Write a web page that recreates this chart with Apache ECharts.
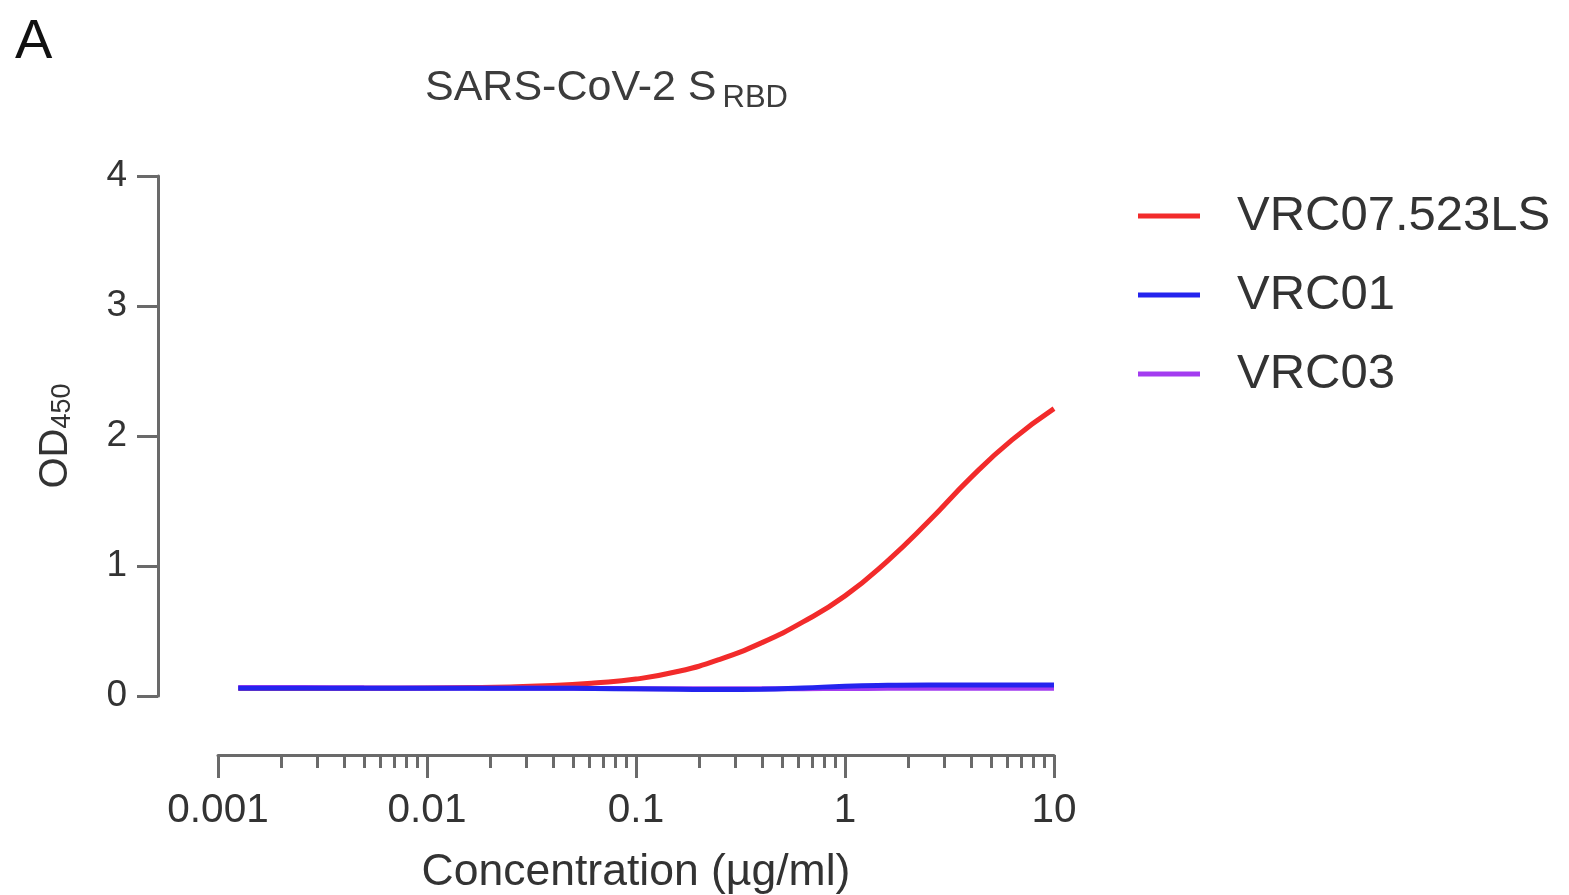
<!DOCTYPE html>
<html>
<head>
<meta charset="utf-8">
<script src="https://cdn.jsdelivr.net/npm/echarts@6/dist/echarts.min.js"></script>
<style>
  html, body { margin: 0; padding: 0; background: #fff; }
  #chart { width: 1569px; height: 895px; }
</style>
</head>
<body>
<div id="chart"></div>
<script>
// concentration (ug/ml)
var conc = [0.00125, 0.0025, 0.005, 0.01, 0.016, 0.025, 0.04, 0.063, 0.1, 0.16, 0.25, 0.4, 0.63, 1, 1.6, 2.5, 4, 6.3, 10];
var vrc07 = [0.06, 0.06, 0.06, 0.062, 0.065, 0.07, 0.08, 0.10, 0.13, 0.19, 0.28, 0.41, 0.57, 0.77, 1.04, 1.34, 1.68, 1.97, 2.21];
var vrc01 = [0.06, 0.06, 0.06, 0.06, 0.06, 0.06, 0.06, 0.058, 0.055, 0.052, 0.05, 0.052, 0.062, 0.075, 0.082, 0.085, 0.085, 0.085, 0.085];
var vrc03 = [0.065, 0.065, 0.063, 0.062, 0.061, 0.06, 0.06, 0.058, 0.056, 0.055, 0.055, 0.055, 0.056, 0.058, 0.059, 0.06, 0.06, 0.06, 0.06];
var seriesNames = ['VRC07.523LS', 'VRC01', 'VRC03'];
var yTicks = [0, 1, 2, 3, 4];
var minorTicks = [];
[0.001, 0.01, 0.1, 1].forEach(function(d) {
  for (var k = 2; k <= 9; k++) minorTicks.push(Math.log10(k * d));
});

var font = "'Liberation Sans', Arial, sans-serif";
var axisColor = '#6a6a6a';
var textColor = '#333';

function pairs(ys) {
  return conc.map(function(x, i) { return [x, ys[i]]; });
}

var chart = echarts.init(document.getElementById('chart'));
var option = {
  animation: false,
  title: [{
    text: 'A',
    left: 10,
    top: 10,
    textStyle: { fontFamily: font, fontSize: 56, fontWeight: 'normal', color: '#111' }
  }, {
    text: '{a|SARS-CoV-2 S}{b|RBD}',
    left: 420,
    top: 59,
    textStyle: {
      fontWeight: 'normal',
      rich: {
        a: { fontFamily: font, fontSize: 43, fontWeight: 'normal', lineHeight: 50, color: '#3c3c3c', verticalAlign: 'bottom', padding: [0, 0, 4, 0] },
        b: { fontFamily: font, fontSize: 31, fontWeight: 'normal', lineHeight: 20, color: '#3c3c3c', verticalAlign: 'bottom', padding: [0, 0, 0, 6] }
      }
    }
  }],
  legend: {
    orient: 'vertical',
    left: 1133,
    top: 186,
    itemWidth: 62,
    itemHeight: 5,
    itemGap: 29,
    icon: 'rect',
    data: seriesNames,
    textStyle: { fontFamily: font, fontSize: 49, lineHeight: 50, color: textColor, padding: [0, 0, 0, 32] }
  },
  grid: { left: 218, right: 515, top: 176, bottom: 199, containLabel: false, outerBoundsMode: 'none' },
  xAxis: [{
    type: 'log',
    logBase: 10,
    min: 0.001,
    max: 10,
    offset: 59,
    position: 'bottom',
    name: 'Concentration (µg/ml)',
    nameLocation: 'middle',
    nameGap: 95,
    nameTextStyle: { fontFamily: font, fontSize: 44.5, color: textColor },
    axisLine: { onZero: false, lineStyle: { color: axisColor, width: 3 } },
    axisTick: { length: 23, lineStyle: { color: axisColor, width: 3 } },
    splitLine: { show: false },
    minorTick: { show: false },
    axisLabel: {
      margin: 35,
      fontFamily: font, fontSize: 40.5, color: textColor,
      formatter: function(v) { return String(v); }
    }
  }, {
    type: 'value',
    min: -3,
    max: 1,
    offset: 59,
    position: 'bottom',
    axisLine: { show: false, onZero: false },
    axisTick: { length: 13, lineStyle: { color: axisColor, width: 3 }, customValues: minorTicks },
    axisLabel: { show: false },
    splitLine: { show: false }
  }],
  yAxis: {
    type: 'value',
    min: 0,
    max: 4,
    interval: 1,
    offset: 60,
    name: '{a|OD}{b|450}',
    nameLocation: 'middle',
    nameGap: 82,
    nameRotate: 90,
    nameTextStyle: {
      rich: {
        a: { fontFamily: font, fontSize: 40, lineHeight: 46, color: textColor, verticalAlign: 'bottom' },
        b: { fontFamily: font, fontSize: 27, lineHeight: 22, color: textColor, verticalAlign: 'bottom' }
      }
    },
    axisLine: { show: true, onZero: false, lineStyle: { color: axisColor, width: 3 } },
    axisTick: { show: true, length: 21, lineStyle: { color: axisColor, width: 3 } },
    splitLine: { show: false },
    axisLabel: {
      margin: 31,
      fontFamily: font, fontSize: 37, color: textColor,
      customValues: yTicks
    }
  },
  series: [{
    name: seriesNames[0],
    type: 'line',
    smooth: 0.5,
    showSymbol: false,
    color: '#f22b2b',
    lineStyle: { width: 5, color: '#f22b2b' },
    data: pairs(vrc07),
    z: 2
  }, {
    name: seriesNames[2],
    type: 'line',
    smooth: 0.5,
    showSymbol: false,
    color: '#a33cf0',
    lineStyle: { width: 5, color: '#a33cf0' },
    data: pairs(vrc03),
    z: 3
  }, {
    name: seriesNames[1],
    type: 'line',
    smooth: 0.5,
    showSymbol: false,
    color: '#2424ee',
    lineStyle: { width: 5, color: '#2424ee' },
    data: pairs(vrc01),
    z: 4
  }]
};
chart.setOption(option);
</script>
</body>
</html>
